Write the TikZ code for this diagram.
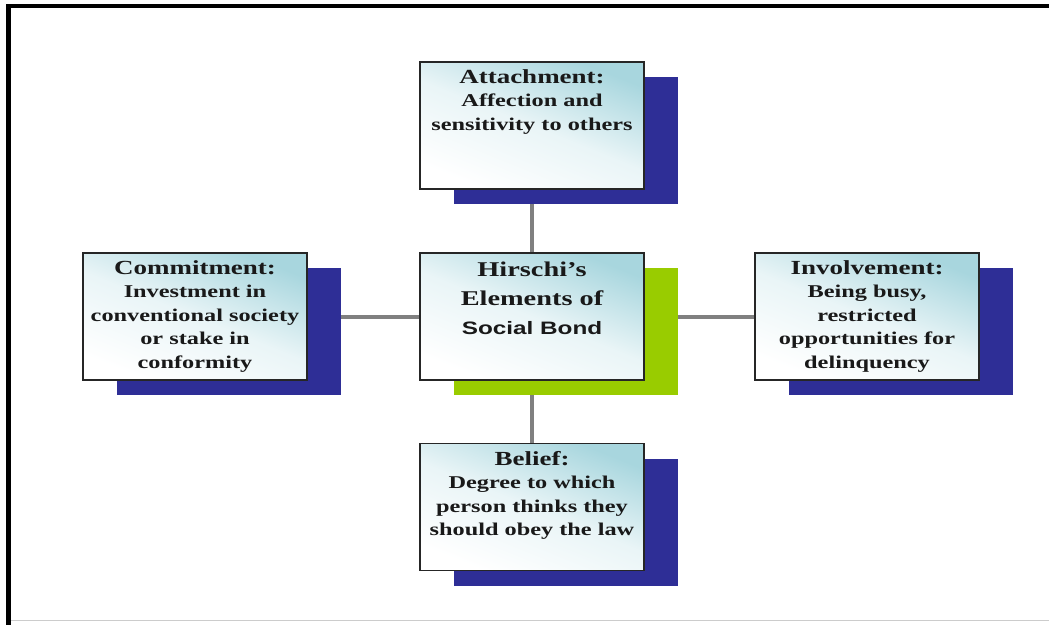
\documentclass[tikz,border=0pt]{standalone}
\usepackage{fontspec}
\setmainfont{Liberation Serif}[FakeStretch=1.35]
\newfontfamily\bondfont{Liberation Sans}[FakeStretch=1.35]
\usepackage{tikz}
\usetikzlibrary{shadows}
\usetikzlibrary{backgrounds}
\usetikzlibrary{positioning}

\definecolor{bondnavy}{RGB}{46,46,150}
\definecolor{bondgreen}{RGB}{153,204,0}
\definecolor{boxteal}{RGB}{168,214,222}
\definecolor{linkgray}{RGB}{128,128,128}

\tikzset{
  elem/.style={draw=black!85,line width=1.5pt,minimum width=224pt,minimum height=127pt,
    inner sep=0pt,top color=boxteal,bottom color=white,middle color=white!75!boxteal,
    shading angle=-22},
  navyshadow/.style={drop shadow={shadow xshift=34pt,shadow yshift=-15pt,fill=bondnavy,opacity=1}},
  greenshadow/.style={drop shadow={shadow xshift=34pt,shadow yshift=-15pt,fill=bondgreen,opacity=1}},
  elemtext/.style={anchor=north,align=center,inner sep=0pt,text=black!90,
    font=\bfseries\fontsize{18}{23.5}\selectfont,execute at begin node=\rule{0pt}{16pt}},
  bondtext/.style={anchor=north,align=center,inner sep=0pt,text=black!90,
    font=\bfseries\fontsize{21}{29}\selectfont,execute at begin node=\rule{0pt}{16pt}}
}
\newcommand{\elemhead}[1]{{\fontsize{20}{23.5}\selectfont #1}}

\begin{document}
\begin{tikzpicture}[x=1pt,y=-1pt]
  \useasboundingbox (0,0) rectangle (1049,625);
  % page frame
  \fill[black] (6,4) rectangle (1049,8);
  \fill[black] (6,4) rectangle (11,625);
  \draw[black!20,line width=1pt] (11,620) -- (1049,620);

  \begin{scope}[every node/.style={elem}]
    \node[navyshadow] (att) at (532,125.5) {};
    \node[greenshadow] (bond) at (532,316.5) {};
    \node[navyshadow] (com) at (195,316.5) {};
    \node[navyshadow] (inv) at (867,316.5) {};
    \node[navyshadow] (bel) at (532,507) {};
  \end{scope}

  % texts sit at the top of each box
  \node[elemtext] (atttxt) at ([yshift=-8pt]att.north)
    {\elemhead{Attachment:}\\Affection and\\sensitivity to others};
  \node[bondtext] (bondtxt) at ([yshift=-9pt]bond.north)
    {Hirschi’s\\Elements of\\{\bondfont\fontsize{18}{29}\selectfont Social Bond}};
  \node[elemtext] (comtxt) at ([yshift=-8pt]com.north)
    {\elemhead{Commitment:}\\Investment in\\conventional society\\or stake in\\conformity};
  \node[elemtext] (invtxt) at ([yshift=-8pt]inv.north)
    {\elemhead{Involvement:}\\Being busy,\\restricted\\opportunities for\\delinquency};
  \node[elemtext] (beltxt) at ([yshift=-8pt]bel.north)
    {\elemhead{Belief:}\\Degree to which\\person thinks they\\should obey the law};

  \begin{scope}[on background layer,every edge/.style={draw=linkgray,line width=4pt}]
    \path (att) edge (bond);
    \path (bond) edge (bel);
    \path (com) edge (bond);
    \path (bond) edge (inv);
  \end{scope}
\end{tikzpicture}
\end{document}
